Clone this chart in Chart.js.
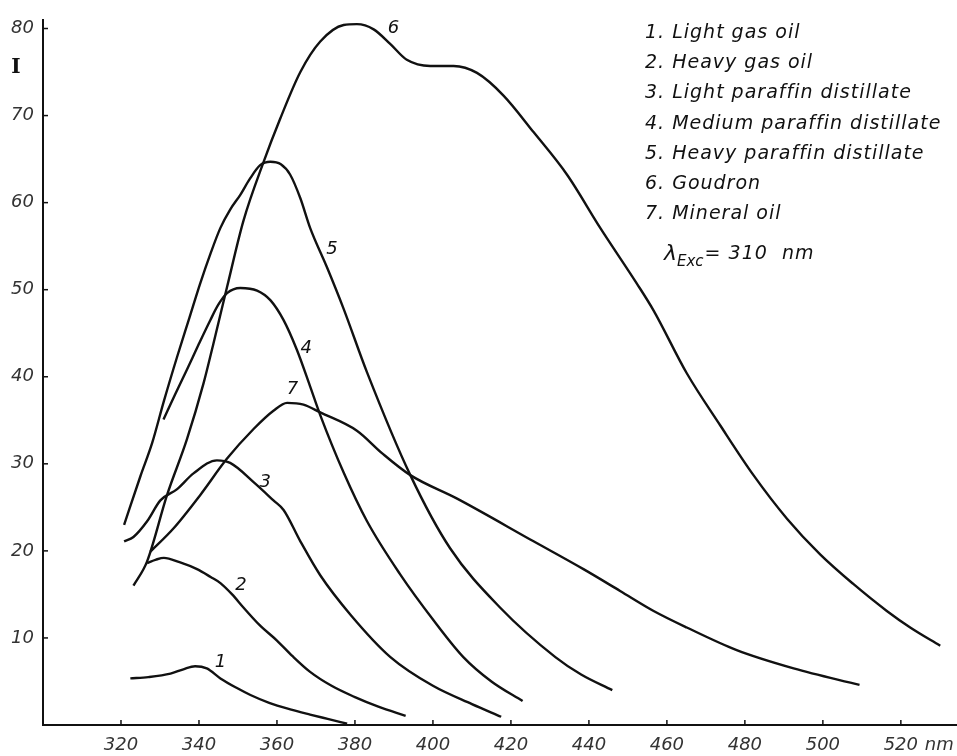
<!DOCTYPE html>
<html>
<head>
<meta charset="utf-8">
<script src="https://cdn.jsdelivr.net/npm/chart.js@4.4.1/dist/chart.umd.min.js"></script>
<style>
  html, body { margin: 0; padding: 0; background: #fff; }
  canvas { display: block; }
</style>
</head>
<body>
<canvas id="spectraChart" width="957" height="756"></canvas>
<script>
// wavelength (nm) and intensity (I), one pair per curve
const lightGasOilNm = [322.4, 327, 332.7, 336, 339, 342, 345.5, 349.5, 353.2, 358, 363.4, 368.5, 373, 378];
const lightGasOilI = [5.35, 5.5, 5.9, 6.4, 6.75, 6.5, 5.35, 4.3, 3.45, 2.55, 1.8, 1.2, 0.7, 0.15];

const heavyGasOilNm = [326.7, 329, 331, 335, 339.5, 343, 345.5, 348.5, 351.4, 355.5, 360, 364, 368.5, 374, 380, 386, 393];
const heavyGasOilI = [18.6, 19.0, 19.2, 18.7, 17.9, 17.0, 16.3, 15.0, 13.5, 11.5, 9.7, 7.9, 6.1, 4.5, 3.2, 2.1, 1.05];

const lightParaffinNm = [320.8, 323.2, 326.7, 330.1, 334.4, 338.6, 344.6, 348, 354, 359.1, 361.7, 366, 371.1, 378.8, 389.1, 400, 410, 417.5];
const lightParaffinI = [21.1, 21.6, 23.4, 25.8, 27.1, 28.9, 30.4, 30.1, 27.9, 25.8, 24.7, 21.1, 17.2, 12.7, 7.8, 4.5, 2.4, 0.95];

const mediumParaffinNm = [330.9, 333.9, 336.9, 339.9, 342.9, 345, 347.2, 350.6, 354.9, 358.3, 361.7, 365.1, 368.5, 371.1, 377.1, 383.1, 391.6, 400.2, 407.8, 415, 423];
const mediumParaffinI = [35.1, 38, 40.8, 43.7, 46.5, 48.3, 49.6, 50.2, 49.9, 48.8, 46.5, 43.1, 38.9, 35.6, 29, 23.4, 17.3, 12, 7.8, 5, 2.75];

const heavyParaffinNm = [320.8, 325, 328, 331, 334.4, 337.5, 340.3, 343, 345.5, 348, 350.6, 353, 355.7, 358.3, 361, 363.4, 366, 368.5, 372.8, 377.1, 383.1, 394.2, 404.4, 417.2, 431.4, 438, 446];
const heavyParaffinI = [23, 28.6, 32.4, 37.2, 42.3, 46.7, 50.7, 54.2, 57.1, 59.2, 60.9, 62.7, 64.3, 64.7, 64.4, 63.2, 60.5, 57.1, 52.6, 47.8, 40.5, 28.7, 20.3, 13.5, 7.8, 5.8, 4.0];

const goudronNm = [323.2, 326.7, 331.8, 336.9, 341.2, 343.7, 347.2, 351.4, 356.6, 360.8, 366, 371.1, 377.1, 380.5, 384.8, 389.1, 393.3, 399.3, 405.3, 411.3, 418.1, 425.8, 434.4, 442.9, 452.3, 456.6, 465.1, 473.7, 482.2, 490.8, 499.3, 507.8, 516.4, 522.4, 530.1];
const goudronI = [16, 18.8, 26.4, 32.8, 39.3, 43.8, 50.3, 57.9, 64.7, 69.6, 75, 78.5, 80.4, 80.5, 79.9, 78.2, 76.4, 75.7, 75.7, 74.9, 72.3, 68.1, 63.2, 57.1, 50.7, 47.6, 40.4, 34.4, 28.7, 23.7, 19.6, 16.2, 13.1, 11.2, 9.1];

const mineralOilNm = [327.5, 333.5, 340.3, 347.2, 354, 359.1, 362.6, 366.8, 371.1, 380.5, 387, 394.2, 406.2, 425.8, 438.6, 448, 456.6, 465.1, 477.9, 492.5, 509.4];
const mineralOilI = [19.9, 22.6, 26.4, 30.6, 34, 36.1, 37, 36.8, 35.9, 33.8, 31.2, 28.7, 26, 21.1, 17.9, 15.4, 13.1, 11.2, 8.6, 6.5, 4.6];

// curve number labels, placed in data units
const curveLabelText = ["1", "2", "3", "4", "5", "6", "7"];
const curveLabelNm = [345.5, 350.8, 357, 367.5, 374.1, 389.9, 364];
const curveLabelI = [7.2, 16.0, 27.9, 43.3, 54.6, 80, 38.5];

const legendLines = [
    "1. Light gas oil",
    "2. Heavy gas oil",
    "3. Light paraffin distillate",
    "4. Medium paraffin distillate",
    "5. Heavy paraffin distillate",
    "6. Goudron",
    "7. Mineral oil"
];

const xTicks = [320, 340, 360, 380, 400, 420, 440, 460, 480, 500, 520];
const yTicks = [10, 20, 30, 40, 50, 60, 70, 80];

const ITALIC = 'italic 18px "DejaVu Sans"';
const KEY_FONT = 'italic 19px "DejaVu Sans"';

function toPoints(xs, ys) {
    return xs.map((x, i) => ({ x, y: ys[i] }));
}

function curve(label, xs, ys) {
    return {
        label,
        data: toPoints(xs, ys),
        borderColor: "#111",
        borderWidth: 2.4,
        pointRadius: 0,
        fill: false,
        cubicInterpolationMode: "monotone"
    };
}

const annotations = {
    id: "annotations",
    afterDraw(chart) {
        const { ctx, chartArea } = chart;
        const xs = chart.scales.x;
        const ys = chart.scales.y;

        ctx.save();
        ctx.strokeStyle = "#111";
        ctx.lineWidth = 1.5;

        // small inward tick marks
        xTicks.forEach(v => {
            const px = xs.getPixelForValue(v);
            ctx.beginPath();
            ctx.moveTo(px, chartArea.bottom);
            ctx.lineTo(px, chartArea.bottom - 5);
            ctx.stroke();
        });
        yTicks.forEach(v => {
            const py = ys.getPixelForValue(v);
            ctx.beginPath();
            ctx.moveTo(chartArea.left, py);
            ctx.lineTo(chartArea.left + 5, py);
            ctx.stroke();
        });

        ctx.fillStyle = "#111";
        ctx.font = ITALIC;
        ctx.textBaseline = "middle";
        ctx.textAlign = "center";

        // curve numbers
        curveLabelText.forEach((t, i) => {
            ctx.fillText(t, xs.getPixelForValue(curveLabelNm[i]), ys.getPixelForValue(curveLabelI[i]));
        });

        // unit after the last x label
        ctx.fillStyle = "#333";
        ctx.textAlign = "left";
        ctx.fillText("nm", xs.getPixelForValue(520) + 24, chartArea.bottom + 20);

        // axis title
        ctx.fillStyle = "#111";
        ctx.font = 'bold 20px "DejaVu Serif"';
        ctx.textAlign = "center";
        ctx.fillText("I", chartArea.left - 27, ys.getPixelForValue(75.5));

        // key
        ctx.font = KEY_FONT;
        ctx.letterSpacing = "1px";
        ctx.textAlign = "left";
        legendLines.forEach((t, i) => {
            ctx.fillText(t, 645, 33 + i * 30.2);
        });

        // excitation wavelength
        let x = 664;
        const y = 254;
        ctx.letterSpacing = "0px";
        ctx.font = 'italic 22px "DejaVu Sans"';
        ctx.fillText("λ", x, y);
        x += ctx.measureText("λ").width;
        ctx.font = 'italic 15px "DejaVu Sans"';
        ctx.fillText("Exc", x, y + 8);
        x += ctx.measureText("Exc").width + 1;
        ctx.font = KEY_FONT;
        ctx.letterSpacing = "1px";
        ctx.fillText("= 310  nm", x, y);

        ctx.restore();
    }
};

new Chart(document.getElementById("spectraChart"), {
    type: "line",
    data: {
        datasets: [
            curve("Light gas oil", lightGasOilNm, lightGasOilI),
            curve("Heavy gas oil", heavyGasOilNm, heavyGasOilI),
            curve("Light paraffin distillate", lightParaffinNm, lightParaffinI),
            curve("Medium paraffin distillate", mediumParaffinNm, mediumParaffinI),
            curve("Heavy paraffin distillate", heavyParaffinNm, heavyParaffinI),
            curve("Goudron", goudronNm, goudronI),
            curve("Mineral oil", mineralOilNm, mineralOilI)
        ]
    },
    plugins: [annotations],
    options: {
        responsive: false,
        animation: false,
        devicePixelRatio: 1,
        layout: { padding: { top: 13, right: 0, left: 0, bottom: 0 } },
        plugins: {
            legend: { display: false },
            tooltip: { enabled: false }
        },
        scales: {
            x: {
                type: "linear",
                min: 300,
                max: 534.4,
                afterFit(scale) { scale.height = 31; },
                afterBuildTicks(scale) {
                    scale.ticks = xTicks.map(v => ({ value: v }));
                },
                grid: { display: false, drawTicks: false },
                border: { display: true, color: "#111", width: 2 },
                ticks: {
                    color: "#333",
                    padding: 10,
                    maxRotation: 0,
                    autoSkip: false,
                    font: { family: "DejaVu Sans", style: "italic", size: 18 }
                }
            },
            y: {
                min: 0,
                max: 81,
                afterFit(scale) { scale.width = 43; },
                afterBuildTicks(scale) {
                    scale.ticks = yTicks.map(v => ({ value: v }));
                },
                grid: { display: false, drawTicks: false },
                border: { display: true, color: "#111", width: 2 },
                ticks: {
                    color: "#333",
                    padding: 9,
                    autoSkip: false,
                    font: { family: "DejaVu Sans", style: "italic", size: 18 }
                }
            }
        }
    }
});
</script>
</body>
</html>
